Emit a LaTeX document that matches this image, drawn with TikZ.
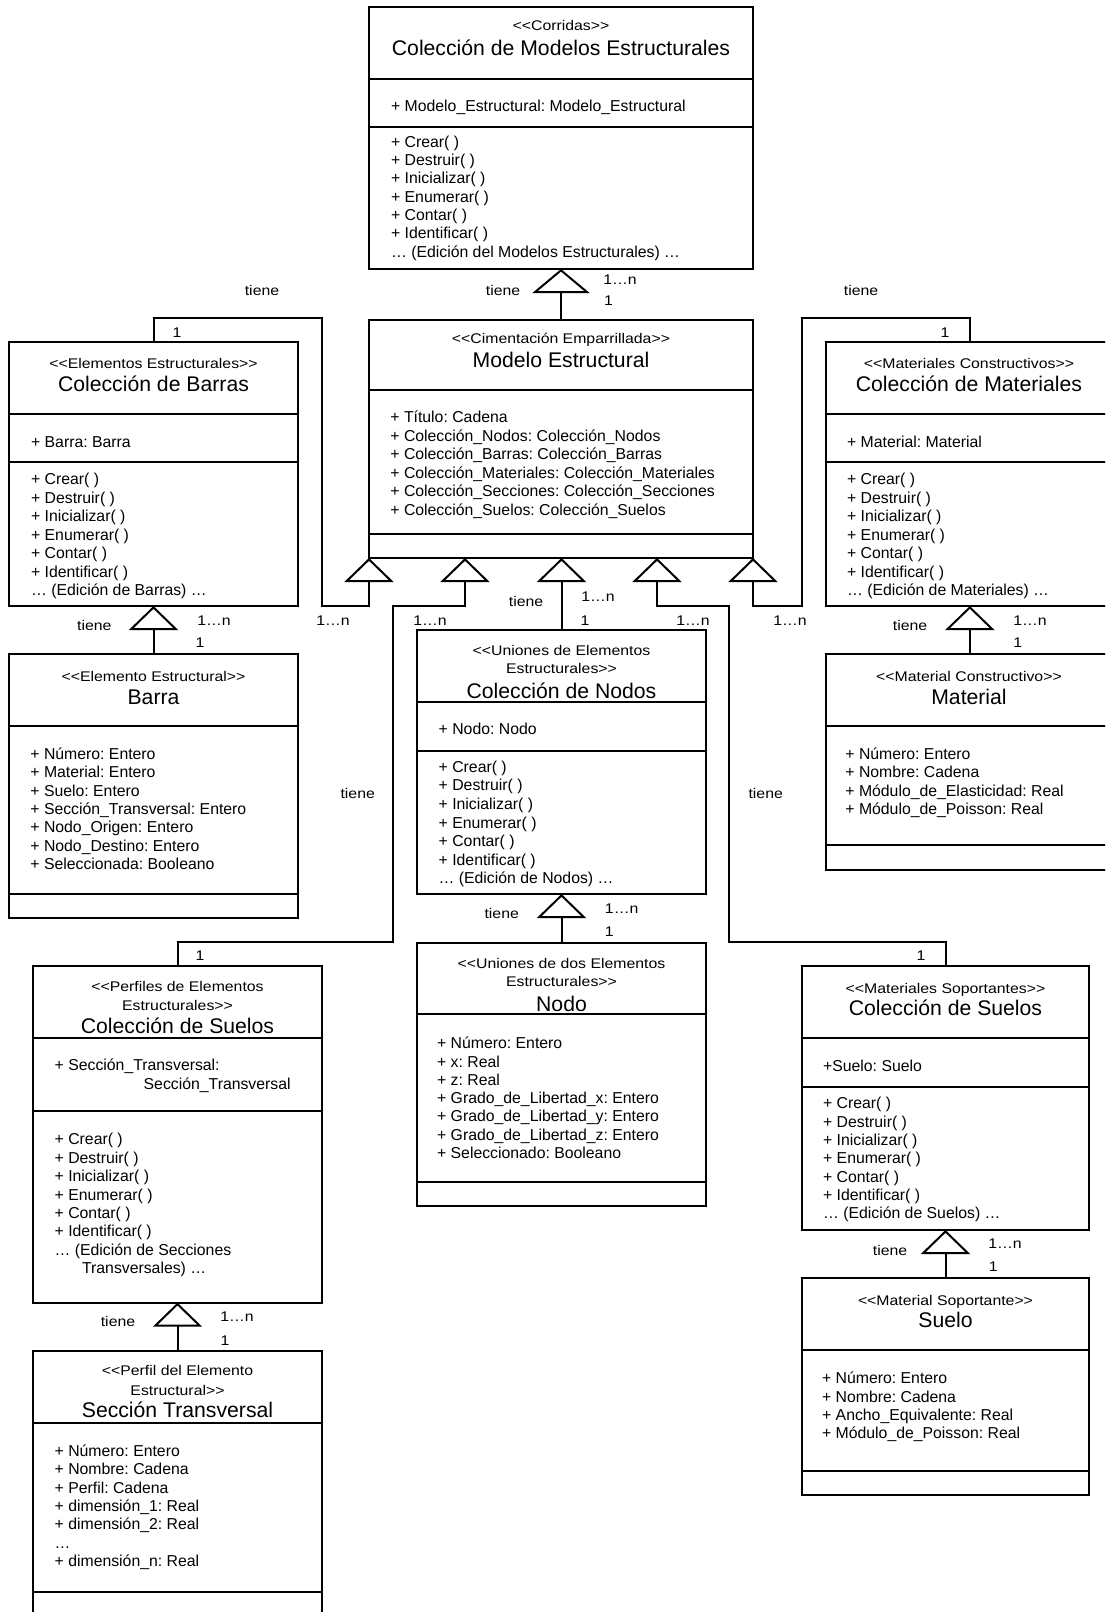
\documentclass[tikz,border=0pt]{standalone}
\usepackage{fontspec}
\newfontfamily\af{Liberation Sans}
\newfontfamily\stf[FakeStretch=1.13]{Liberation Sans}
\usetikzlibrary{arrows.meta,calc}
\frenchspacing
\tikzset{
  box/.style={draw, line width=1pt, anchor=north west, inner sep=0pt, outer sep=0pt},
  sepl/.style={line width=1pt},
  attr/.style={anchor=base west, inner sep=0pt, font={\af\frenchspacing\fontsize{7.9pt}{9.2pt}\selectfont}},
  ster/.style={anchor=base, inner sep=0pt, font={\stf\frenchspacing\fontsize{7pt}{9pt}\selectfont}},
  ttl/.style={anchor=base, inner sep=0pt, font={\af\frenchspacing\fontsize{10.6pt}{12pt}\selectfont}},
  lbl/.style={anchor=base, inner sep=0pt, font={\stf\fontsize{7pt}{9pt}\selectfont}},
  inh/.style={line width=1pt, -{Triangle[open, width=24.5pt, length=12pt]}},
  inhbig/.style={line width=1pt, -{Triangle[open, width=28.5pt, length=12pt]}},
}
\newcommand{\umlbox}[7]{%
  \node[box, minimum width={(#4-#2)*0.5pt}, minimum height={(#5-#3)*0.5pt}] (#1) at (#2,#3) {};
  \draw[sepl] (#1.west |- 0,#6) -- (#1.east |- 0,#6);
  \draw[sepl] (#1.west |- 0,#7) -- (#1.east |- 0,#7);
}
\newcommand{\tlines}[5]{%
  \foreach \tx [count=\i] in {#5}{\node[attr] (#1\i) at (#2,{#3+(\i-1)*#4}) {\tx};}%
}
\begin{document}
\begin{tikzpicture}[x=0.5pt,y=-0.5pt]
\useasboundingbox (0,0) rectangle (1105,1612);
\clip (0,0) rectangle (1105,1612);
% ---------- boxes
\umlbox{cm}{369}{7}{753}{269}{79}{127}
\umlbox{me}{369}{320}{753}{558}{390}{534}
\umlbox{cb}{9}{342}{298}{606}{414}{462}
\umlbox{cmat}{825.7}{342}{1114}{606}{414}{462}
\umlbox{barra}{9}{654}{298}{918}{726}{894}
\umlbox{mat}{825.7}{654}{1114}{870}{726}{845}
\umlbox{cn}{417.3}{630}{705.7}{894}{702.3}{750.7}
\umlbox{nodo}{417.3}{942.7}{705.7}{1205.7}{1014.3}{1182.3}
\umlbox{cs}{33.3}{966}{321.7}{1302.7}{1038.3}{1110.7}
\umlbox{sec}{33.3}{1350.7}{321.7}{1625}{1423.3}{1591.7}
\umlbox{csue}{801.7}{966}{1089.3}{1230}{1038.3}{1086.7}
\umlbox{suelo}{801.7}{1278.3}{1089.3}{1495}{1350}{1470.7}
% ---------- Coleccion de Modelos Estructurales
\node[ster] (cm-s) at (561,30.5) {<<Corridas>>};
\node[ttl] (cm-t) at (561,55.6) {Colección de Modelos Estructurales};
\node[attr] (cm-a) at (390.7,111) {+ Modelo\_Estructural: Modelo\_Estructural};
\tlines{cm-m}{390.7}{147.2}{18.33}{+ Crear( ), + Destruir( ), + Inicializar( ), + Enumerar( ), + Contar( ), + Identificar( ), … (Edición del Modelos Estructurales) …}
% ---------- Modelo Estructural
\node[ster] (me-s) at (561,343.2) {<<Cimentación Emparrillada>>};
\node[ttl] (me-t) at (561,367.4) {Modelo Estructural};
\tlines{me-a}{390}{422.8}{18.5}{+ Título: Cadena, + Colección\_Nodos: Colección\_Nodos, + Colección\_Barras: Colección\_Barras, + Colección\_Materiales: Colección\_Materiales, + Colección\_Secciones: Colección\_Secciones, + Colección\_Suelos: Colección\_Suelos}
% ---------- Coleccion de Barras
\node[ster] (cb-s) at (153.5,368.3) {<<Elementos Estructurales>>};
\node[ttl] (cb-t) at (153.5,391.6) {Colección de Barras};
\node[attr] (cb-a) at (30.7,447.2) {+ Barra: Barra};
\tlines{cb-m}{30.7}{484.5}{18.5}{+ Crear( ), + Destruir( ), + Inicializar( ), + Enumerar( ), + Contar( ), + Identificar( ), … (Edición de Barras) …}
% ---------- Coleccion de Materiales
\node[ster] (cmat-s) at (969,368.3) {<<Materiales Constructivos>>};
\node[ttl] (cmat-t) at (969,391.6) {Colección de Materiales};
\node[attr] (cmat-a) at (846.7,447.2) {+ Material: Material};
\tlines{cmat-m}{846.7}{484.5}{18.5}{+ Crear( ), + Destruir( ), + Inicializar( ), + Enumerar( ), + Contar( ), + Identificar( ), … (Edición de Materiales) …}
% ---------- Barra
\node[ster] (barra-s) at (153.5,681.7) {<<Elemento Estructural>>};
\node[ttl] (barra-t) at (153.5,704.3) {Barra};
\tlines{barra-a}{30}{759.5}{18.33}{+ Número: Entero, + Material: Entero, + Suelo: Entero, + Sección\_Transversal: Entero, + Nodo\_Origen: Entero, + Nodo\_Destino: Entero, + Seleccionada: Booleano}
% ---------- Material
\node[ster] (mat-s) at (969,681.7) {<<Material Constructivo>>};
\node[ttl] (mat-t) at (969,704.3) {Material};
\tlines{mat-a}{845}{759.5}{18.33}{+ Número: Entero, + Nombre: Cadena, + Módulo\_de\_Elasticidad: Real, + Módulo\_de\_Poisson: Real}
% ---------- Coleccion de Nodos
\node[ster] (cn-s1) at (561.5,655) {<<Uniones de Elementos};
\node[ster] (cn-s2) at (561.5,673.3) {Estructurales>>};
\node[ttl] (cn-t) at (561.5,698.3) {Colección de Nodos};
\node[attr] (cn-a) at (438.3,734.8) {+ Nodo: Nodo};
\tlines{cn-m}{438.3}{772.2}{18.6}{+ Crear( ), + Destruir( ), + Inicializar( ), + Enumerar( ), + Contar( ), + Identificar( ), … (Edición de Nodos) …}
% ---------- Nodo
\node[ster] (nodo-s1) at (561.5,968.3) {<<Uniones de dos Elementos};
\node[ster] (nodo-s2) at (561.5,986.7) {Estructurales>>};
\node[ttl] (nodo-t) at (561.5,1011.6) {Nodo};
\tlines{nodo-a}{436.7}{1048.8}{18.25}{+ Número: Entero, + x: Real, + z: Real, + Grado\_de\_Libertad\_x: Entero, + Grado\_de\_Libertad\_y: Entero, + Grado\_de\_Libertad\_z: Entero, + Seleccionado: Booleano}
% ---------- Coleccion de Suelos (perfiles)
\node[ster] (cs-s1) at (177.5,991.7) {<<Perfiles de Elementos};
\node[ster] (cs-s2) at (177.5,1010) {Estructurales>>};
\node[ttl] (cs-t) at (177.5,1033.6) {Colección de Suelos};
\node[attr] (cs-a1) at (54.3,1070.5) {+ Sección\_Transversal:};
\node[attr] (cs-a2) at (143.3,1089.8) {Sección\_Transversal};
\tlines{cs-m}{54.3}{1144.8}{18.4}{+ Crear( ), + Destruir( ), + Inicializar( ), + Enumerar( ), + Contar( ), + Identificar( ), … (Edición de Secciones}
\node[attr] (cs-m8) at (81.7,1273.8) {Transversales) …};
% ---------- Seccion Transversal
\node[ster] (sec-s1) at (177.5,1375.7) {<<Perfil del Elemento};
\node[ster] (sec-s2) at (177.5,1395) {Estructural>>};
\node[ttl] (sec-t) at (177.5,1417.6) {Sección Transversal};
\tlines{sec-a}{54.3}{1456.2}{18.4}{+ Número: Entero, + Nombre: Cadena, + Perfil: Cadena, + dimensión\_1: Real, + dimensión\_2: Real, …, + dimensión\_n: Real}
% ---------- Coleccion de Suelos (soportantes)
\node[ster] (csue-s) at (945.5,993.3) {<<Materiales Soportantes>>};
\node[ttl] (csue-t) at (945.5,1015.9) {Colección de Suelos};
\node[attr] (csue-a) at (822.7,1071.2) {+Suelo: Suelo};
\tlines{csue-m}{822.7}{1108.8}{18.33}{+ Crear( ), + Destruir( ), + Inicializar( ), + Enumerar( ), + Contar( ), + Identificar( ), … (Edición de Suelos) …}
% ---------- Suelo
\node[ster] (suelo-s) at (945.5,1305) {<<Material Soportante>>};
\node[ttl] (suelo-t) at (945.5,1327.6) {Suelo};
\tlines{suelo-a}{821.7}{1383.8}{18.33}{+ Número: Entero, + Nombre: Cadena, + Ancho\_Equivalente: Real, + Módulo\_de\_Poisson: Real}
% ---------- connectors
\draw[inhbig] (me.north) -- (cm.south);
\coordinate (l1) at (322,318); \coordinate (l2) at (322,606);
\draw[inh] (cb.north) |- (l1) -- (l2) -| (me.south west);
\coordinate (r1) at (801.7,318); \coordinate (r2) at (801.7,606);
\draw[inh] (cmat.north) |- (r1) -- (r2) -| (me.south east);
\draw[inh] (cn.north) -- (cn.north |- me.south);
\coordinate (t2) at ($(me.south west)!0.25!(me.south east)$);
\coordinate (t4) at ($(me.south west)!0.75!(me.south east)$);
\coordinate (ld1) at (393.3,942.3); \coordinate (ld2) at (393.3,605.7);
\draw[inh] (cs.north) |- (ld1) -- (ld2) -| (t2);
\coordinate (rd1) at (729.3,942.3); \coordinate (rd2) at (729.3,605.7);
\draw[inh] (csue.north) |- (rd1) -- (rd2) -| (t4);
\draw[inh] (barra.north) -- (cb.south);
\draw[inh] (mat.north) -- (cmat.south);
\draw[inh] (nodo.north) -- (cn.south);
\draw[inh] (sec.north) -- (cs.south);
\draw[inh] (suelo.north) -- (csue.south);
% ---------- labels
\node[lbl] (L1a) at (503,295) {tiene};
\node[lbl] (L1b) at (620,284.3) {1…n};
\node[lbl] (L1c) at (608.5,305) {1};
\node[lbl] (L2a) at (262,295) {tiene};
\node[lbl] (L2b) at (177,337) {1};
\node[lbl] (L2c) at (333,625) {1…n};
\node[lbl] (L3a) at (861,295) {tiene};
\node[lbl] (L3b) at (945,337) {1};
\node[lbl] (L3c) at (790,625) {1…n};
\node[lbl] (L4a) at (94.3,630) {tiene};
\node[lbl] (L4b) at (214,625) {1…n};
\node[lbl] (L4c) at (200,647.3) {1};
\node[lbl] (L5a) at (910,630) {tiene};
\node[lbl] (L5b) at (1030,625) {1…n};
\node[lbl] (L5c) at (1017.7,647.3) {1};
\node[lbl] (L6a) at (526,606.7) {tiene};
\node[lbl] (L6b) at (598,601) {1…n};
\node[lbl] (L6c) at (585,625) {1};
\node[lbl] (L7a) at (430,625) {1…n};
\node[lbl] (L7b) at (357.7,798.5) {tiene};
\node[lbl] (L7c) at (200,960) {1};
\node[lbl] (L8a) at (693,625) {1…n};
\node[lbl] (L8b) at (765.7,798.5) {tiene};
\node[lbl] (L8c) at (921,960) {1};
\node[lbl] (L9a) at (501.7,918.3) {tiene};
\node[lbl] (L9b) at (621.7,913.3) {1…n};
\node[lbl] (L9c) at (609.3,936.7) {1};
\node[lbl] (L10a) at (118,1326.7) {tiene};
\node[lbl] (L10b) at (237,1321) {1…n};
\node[lbl] (L10c) at (225,1345) {1};
\node[lbl] (L11a) at (890,1255) {tiene};
\node[lbl] (L11b) at (1005,1248.3) {1…n};
\node[lbl] (L11c) at (993.3,1271.7) {1};
\end{tikzpicture}
\end{document}
